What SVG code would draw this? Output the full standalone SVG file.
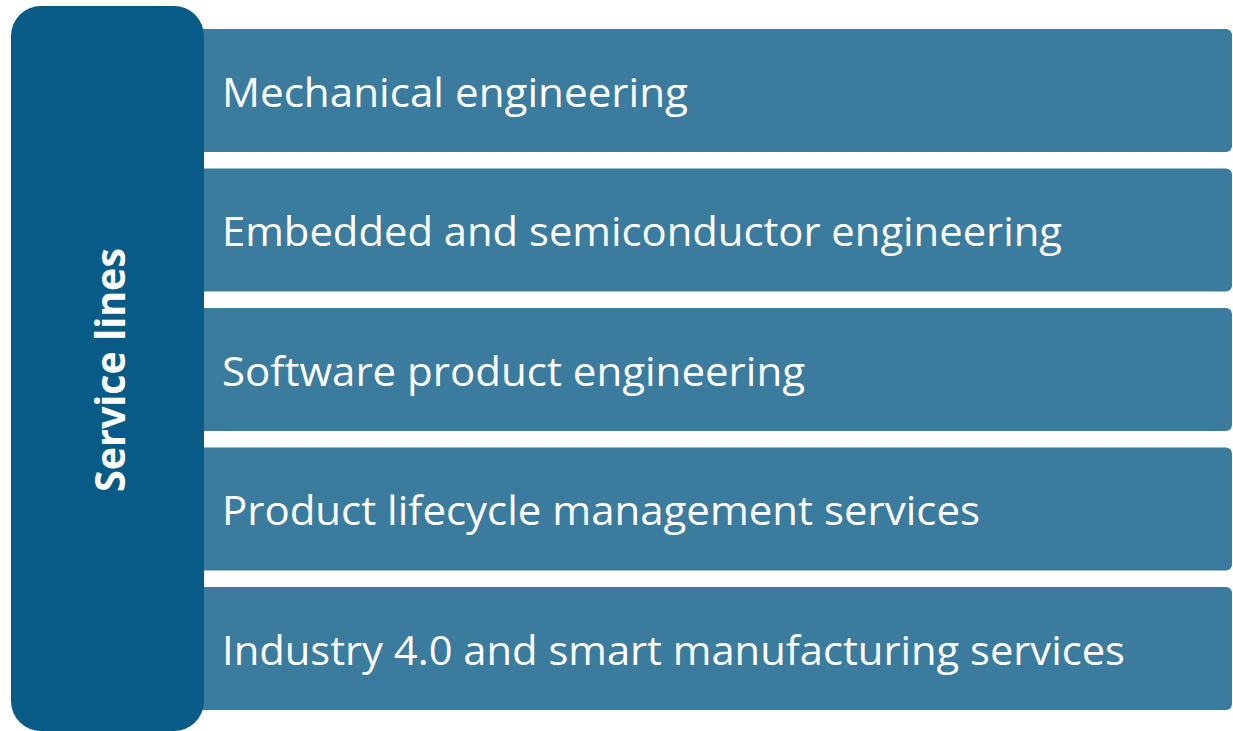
<svg xmlns="http://www.w3.org/2000/svg" width="1233" height="731" viewBox="0 0 1233 731">
  <style>
    .bar { fill: #3a7b9e; }
    .side { fill: #085a87; }
    .lbl { fill: #ffffff; font-family: "Open Sans", "Liberation Sans", sans-serif; font-size: 40px; }
    .title { fill: #ffffff; font-family: "Open Sans", "Liberation Sans", sans-serif; font-size: 42px; font-weight: bold; }
  </style>
  <rect width="1233" height="731" fill="#ffffff"/>
  <g id="bar1">
    <rect class="bar" x="180" y="29" width="1052" height="123" rx="6"/>
    <text class="lbl" x="222" y="106.5" textLength="466" lengthAdjust="spacingAndGlyphs">Mechanical engineering</text>
  </g>
  <g id="bar2">
    <rect class="bar" x="180" y="168.5" width="1052" height="123" rx="6"/>
    <text class="lbl" x="222" y="246" textLength="840" lengthAdjust="spacingAndGlyphs">Embedded and semiconductor engineering</text>
  </g>
  <g id="bar3">
    <rect class="bar" x="180" y="308" width="1052" height="123" rx="6"/>
    <text class="lbl" x="222" y="385.5" textLength="583" lengthAdjust="spacingAndGlyphs">Software product engineering</text>
  </g>
  <g id="bar4">
    <rect class="bar" x="180" y="447.5" width="1052" height="123" rx="6"/>
    <text class="lbl" x="222" y="525" textLength="758" lengthAdjust="spacingAndGlyphs">Product lifecycle management services</text>
  </g>
  <g id="bar5">
    <rect class="bar" x="180" y="587" width="1052" height="123" rx="6"/>
    <text class="lbl" x="222" y="664.5" textLength="903" lengthAdjust="spacingAndGlyphs">Industry 4.0 and smart manufacturing services</text>
  </g>
  <g id="service-lines">
    <rect class="side" x="11" y="6" width="193" height="725" rx="30"/>
    <text class="title" transform="translate(125 370) rotate(-90)" text-anchor="middle" textLength="244" lengthAdjust="spacingAndGlyphs">Service lines</text>
  </g>
  <g id="connectors"/>
</svg>
